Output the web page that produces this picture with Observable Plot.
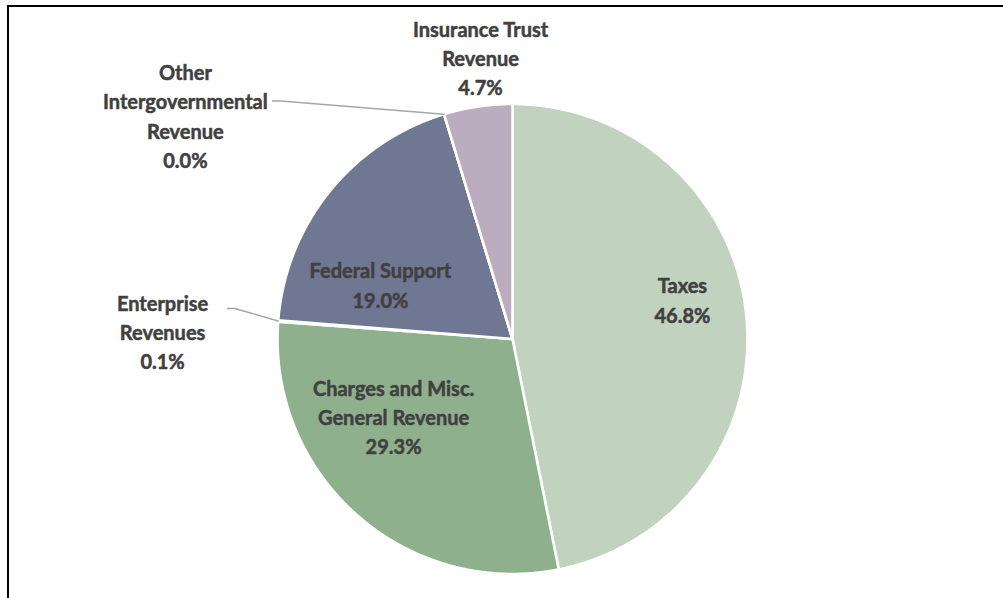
<!DOCTYPE html>
<html><head><meta charset="utf-8">
<script src="https://cdn.jsdelivr.net/npm/d3@7"></script>
<script src="https://cdn.jsdelivr.net/npm/@observablehq/plot@0.6"></script>
<style>
html,body{margin:0;padding:0;background:#fff;overflow:hidden;width:1003px;height:598px;}
#frame{position:absolute;left:7px;top:5px;width:1200px;height:800px;border-left:2px solid #000;border-top:2px solid #000;}
#chart{position:absolute;left:0;top:0;}
</style></head><body><div id="frame"></div><div id="chart"></div>
<script>
// Data
const categories = ["Taxes", "Charges and Misc. General Revenue", "Enterprise Revenues", "Federal Support", "Other Intergovernmental Revenue", "Insurance Trust Revenue"];
const values = [46.8, 29.3, 0.1, 19.0, 0.0, 4.7];
const labelNames = ["Taxes", "Charges and Misc.\nGeneral Revenue", "Enterprise\nRevenues", "Federal Support", "Other\nIntergovernmental\nRevenue", "Insurance Trust\nRevenue"];
const colors = ["#c1d2be", "#8fb08c", "#9aa39a", "#6f7793", "#a9a2b0", "#bbadbf"];

// Layout (in pie-radius units)
const labelX = [0.723, -0.506, -1.489, -0.562, -1.392, -0.136];
const labelY = [0.172, -0.326, 0.036, 0.236, 0.955, 1.202];
const leaderStart = {"Enterprise Revenues": [[-1.213, 0.130], [-1.183, 0.130]], "Other Intergovernmental Revenue": [[-1.021, 1.013], [-0.987, 1.013]]};

const W = 1003, H = 598, cx = 512, cy = 338.5, R = 235;

const rows = categories.map((c, i) => ({cat: c, value: values[i]}));
const arcs = d3.pie().sort(null).value(d => d.value)(rows);

const slicePts = [];
arcs.forEach(a => {
  const c = a.data.cat;
  slicePts.push({cat: c, x: 0, y: 0});
  const n = Math.max(2, Math.ceil((a.endAngle - a.startAngle) / 0.005));
  for (let k = 0; k <= n; k++) {
    const t = a.startAngle + (a.endAngle - a.startAngle) * k / n;
    slicePts.push({cat: c, x: Math.sin(t), y: Math.cos(t)});
  }
  slicePts.push({cat: c, x: 0, y: 0});
});

const leaderPts = [];
arcs.forEach(a => {
  const c = a.data.cat;
  if (!leaderStart[c]) return;
  leaderStart[c].forEach(p => leaderPts.push({cat: c, x: p[0], y: p[1]}));
  const m = (a.startAngle + a.endAngle) / 2;
  leaderPts.push({cat: c, x: Math.sin(m), y: Math.cos(m)});
});

const labels = categories.map((c, i) => ({
  cat: c, x: labelX[i], y: labelY[i],
  text: labelNames[i] + "\n" + values[i].toFixed(1) + "%"
}));

const chart = Plot.plot({
  width: W, height: H, margin: 0,
  style: {background: "transparent"},
  x: {domain: [-cx / R, (W - cx) / R], axis: null},
  y: {domain: [-(H - cy) / R, cy / R], axis: null},
  color: {domain: categories, range: colors},
  marks: [
    Plot.line(slicePts, {x: "x", y: "y", z: "cat", fill: "cat", stroke: "white", strokeWidth: 2.6, strokeLinejoin: "round", curve: "linear"}),
    Plot.line(leaderPts, {x: "x", y: "y", z: "cat", stroke: "#a6a6a6", strokeWidth: 1.5, curve: "linear"}),
    Plot.text(labels, {x: "x", y: "y", text: "text", fill: "#404040", stroke: "#404040", strokeWidth: 0.5, fontSize: 20, fontWeight: "bold", fontFamily: "Lato", lineHeight: 1.47, textAnchor: "middle"})
  ]
});
document.getElementById("chart").appendChild(chart);
</script>
</body></html>
